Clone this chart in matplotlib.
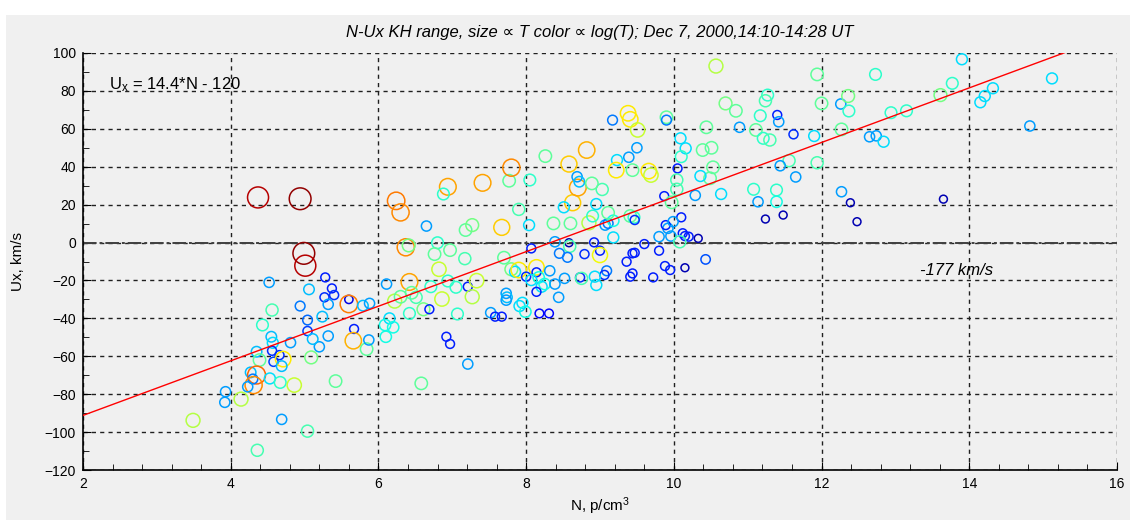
import numpy as np
import matplotlib
matplotlib.use('Agg')
import matplotlib.pyplot as plt
from matplotlib.colors import LogNorm
from matplotlib.patches import Rectangle
from matplotlib.ticker import MultipleLocator

plt.rcParams['font.family'] = ['Liberation Sans', 'DejaVu Sans']
plt.rcParams['mathtext.fontset'] = 'custom'
plt.rcParams['mathtext.rm'] = 'Liberation Sans'
plt.rcParams['mathtext.it'] = 'Liberation Sans:italic'

# density N (p/cm^3), flow Ux (km/s), temperature T (eV) for each sample
n_cm3 = [
    4.37, 4.94, 4.99, 5.01,
    4.52, 5.28, 5.06, 5.37, 5.40, 5.27, 5.32, 4.94, 4.56, 4.43, 5.04, 5.04, 5.24, 5.60, 5.60, 5.79,
    5.88, 5.67, 5.66, 5.84, 5.87, 5.32, 5.20, 5.11, 4.81, 4.55, 4.57, 4.56, 4.58, 4.66, 4.71, 4.69,
    4.35, 4.39, 4.27, 4.35, 4.30, 4.31, 4.23, 4.53, 4.67, 4.86, 5.09, 5.42, 3.93, 3.92, 4.14, 3.49,
    4.69, 5.04, 4.36,
    6.11, 6.37, 6.41, 6.80, 6.76, 6.82, 6.65, 6.42, 6.71, 6.22, 6.30, 6.45, 6.51, 6.61, 6.69, 6.42,
    6.86, 6.15, 6.09, 6.20, 6.10, 6.92, 6.97, 6.94, 6.58,
    6.94, 6.88, 7.41, 7.77, 6.24, 6.30, 7.18, 7.27, 7.67, 7.90, 8.04, 6.97, 7.17, 7.05, 7.21, 7.33,
    7.27, 7.70, 7.80, 7.85, 7.90, 7.07, 7.21, 7.73, 7.74, 7.73, 7.52, 7.58, 7.67, 7.91, 7.95, 7.99,
    8.18, 8.31, 8.07, 8.14, 8.14, 8.00, 8.07, 8.17, 8.21, 8.25, 8.14, 8.32, 8.39, 8.44, 8.52, 8.73,
    8.75, 8.39, 8.58, 8.59, 8.92, 8.79, 9.00, 9.00, 9.09, 9.06, 8.93, 8.95, 9.18, 9.60, 9.80, 9.36,
    9.44, 9.47, 9.41, 9.44, 9.72, 9.88, 9.95, 9.80, 9.92, 9.89, 9.87, 8.45, 8.56,
    9.97, 10.29, 10.64, 10.10, 9.99, 9.96, 10.12, 10.15, 10.20, 10.33, 10.08, 10.43, 10.15, 9.07,
    9.11, 9.18, 8.85, 8.90, 8.95, 9.11, 9.41, 9.46, 9.47, 8.37, 8.60, 8.63, 8.51, 8.70, 9.03,
    10.57, 11.27, 11.24, 10.70, 10.84, 11.17, 11.40, 11.42, 9.38, 9.41, 9.51, 9.17, 9.90, 9.90,
    10.44, 10.89, 11.11, 11.21, 11.30, 10.09, 10.16, 10.10, 10.39, 10.51, 9.50, 9.39, 9.23, 9.22,
    9.44, 9.66, 9.69, 10.05, 10.04, 10.04, 10.53, 10.49, 10.36, 11.08, 11.14, 11.39, 11.39, 11.24,
    8.82, 8.26, 8.58, 7.80, 8.05, 8.69, 8.72, 8.89,
    11.94, 12.73, 13.90, 13.77, 13.61, 12.00, 12.26, 12.36, 12.37, 11.90, 12.27, 12.65, 12.74,
    12.84, 12.94, 13.15, 11.62, 11.94, 11.56, 11.44, 11.65, 11.48, 12.27, 12.39, 12.48, 13.65,
    14.32, 14.21, 14.15, 15.12, 14.82,
]
ux_kms = [
    23.8, 23.1, -5.7, -12.2,
    -21.0, -18.4, -24.7, -24.2, -27.7, -28.9, -32.6, -33.5, -35.6, -43.5, -40.9, -46.7, -39.1, -30.0, -32.4, -33.3,
    -32.1, -45.6, -51.8, -56.2, -51.4, -49.3, -55.0, -50.9, -52.8, -49.7, -52.9, -57.1, -62.9, -59.4, -61.5, -65.2,
    -57.6, -62.0, -68.5, -69.9, -72.0, -75.2, -76.1, -71.7, -73.8, -75.2, -60.6, -73.1, -78.7, -84.3, -82.6, -93.8,
    -93.3, -99.5, -109.6,
    -21.9, -2.5, -1.5, -0.1, -6.1, -14.1, 8.7, -20.8, -23.3, -30.9, -28.6, -26.5, -28.9, -35.2, -35.2, -37.4,
    -29.8, -40.0, -43.5, -44.7, -49.7, -49.7, -53.5, -20.3, -74.3,
    29.4, 25.6, 31.5, 32.6, 22.0, 15.9, 6.6, 9.2, 8.0, 17.5, 9.2, -4.0, -8.5, -23.6, -23.3, -20.1,
    -28.6, -8.0, -14.1, -15.4, -14.5, -37.7, -64.1, -26.8, -28.9, -30.4, -37.0, -39.1, -39.1, -33.5, -31.8, -36.5,
    -37.4, -37.4, -3.1, -13.1, -15.7, -18.0, -19.8, -18.4, -23.3, -21.9, -26.0, -14.9, -21.9, -28.9, -18.9, -18.4,
    -18.9, 0.4, -0.1, -2.0, 0.1, -6.1, -4.3, -6.6, -14.9, -17.1, -18.0, -22.4, 2.7, -0.8, -4.3, -10.1,
    -5.7, -5.4, -18.0, -16.3, -18.4, -12.4, -14.5, 3.1, 7.5, 9.2, 24.5, -5.7, -7.8,
    21.2, 24.9, 25.6, 13.3, 11.0, 3.4, 4.9, 3.4, 3.1, 2.2, 0.4, -8.9, -13.3, 9.2,
    10.1, 11.5, 10.4, 14.0, 20.3, 15.7, 14.0, 13.3, 11.9, 10.1, 10.1, 21.0, 18.6, 29.0, 28.0,
    93.1, 77.8, 74.8, 73.4, 69.5, 66.9, 67.3, 63.7, 68.2, 65.0, 59.4, 64.6, 66.1, 64.6,
    60.8, 60.8, 59.4, 55.0, 54.1, 55.0, 49.7, 45.3, 48.8, 50.0, 50.0, 45.0, 43.5, 38.2,
    38.2, 37.7, 35.6, 39.1, 33.0, 28.1, 39.7, 33.9, 35.1, 28.1, 21.5, 27.7, 21.5, 12.4,
    48.8, 45.6, 41.4, 39.5, 33.0, 34.7, 32.1, 31.2,
    88.7, 88.7, 96.7, 84.0, 77.8, 73.4, 73.1, 77.3, 69.4, 56.2, 59.7, 55.8, 56.3,
    53.2, 68.5, 69.5, 57.1, 42.1, 43.2, 40.5, 34.6, 14.5, 26.8, 21.0, 11.0, 22.9,
    81.4, 77.3, 74.0, 86.6, 61.5,
]
temp_ev = [
    280, 290, 290, 280,
    135, 118, 140, 118, 120, 120, 135, 130, 160, 155, 128, 122, 140, 110, 232, 140,
    135, 118, 218, 165, 135, 135, 135, 140, 135, 140, 145, 120, 122, 120, 205, 140,
    140, 165, 140, 238, 130, 228, 135, 145, 155, 190, 170, 165, 135, 135, 185, 185,
    135, 160, 160,
    135, 228, 170, 155, 165, 190, 135, 222, 155, 185, 165, 165, 160, 170, 118, 155,
    190, 145, 150, 150, 150, 118, 118, 155, 165,
    222, 155, 222, 165, 232, 228, 165, 170, 212, 160, 145, 165, 160, 155, 118, 190,
    185, 165, 170, 145, 205, 155, 135, 135, 140, 135, 135, 118, 118, 145, 145, 150,
    115, 115, 118, 205, 118, 120, 145, 150, 145, 150, 118, 135, 135, 135, 135, 120,
    160, 135, 105, 160, 118, 120, 118, 200, 130, 120, 145, 145, 145, 118, 118, 118,
    118, 118, 118, 118, 118, 118, 118, 135, 135, 118, 118, 130, 130,
    165, 135, 145, 118, 135, 135, 118, 118, 118, 105, 160, 125, 105, 135,
    130, 150, 185, 155, 145, 165, 165, 155, 120, 165, 165, 212, 145, 222, 160,
    185, 155, 160, 170, 165, 155, 118, 135, 205, 205, 190, 130, 165, 130,
    165, 135, 165, 155, 160, 145, 145, 155, 165, 165, 135, 135, 145, 205,
    165, 205, 190, 118, 160, 160, 165, 165, 145, 155, 135, 155, 150, 105,
    218, 165, 212, 228, 155, 135, 140, 165,
    165, 155, 145, 155, 170, 165, 135, 170, 155, 145, 165, 135, 135,
    145, 155, 155, 120, 160, 160, 135, 135, 105, 135, 105, 105, 105,
    145, 145, 145, 145, 135,
]

# linear fit Ux = a*N + b
fit_a, fit_b = 14.4, -120
title = 'N-Ux KH range, size \u221d T color \u221d log(T); Dec 7, 2000,14:10-14:28 UT'

n_cm3 = np.array(n_cm3)
ux_kms = np.array(ux_kms)
temp_ev = np.array(temp_ev)

fig = plt.figure(figsize=(11.3, 5.2), dpi=100)
fig.patch.set_facecolor('white')
fig.patches.append(Rectangle((6 / 1130, 0), 1, 1 - 15 / 520, transform=fig.transFigure,
                             facecolor='#f0f0f0', edgecolor='none', zorder=-10))

ax = fig.add_axes([83 / 1130, 50 / 520, 1034 / 1130, 417 / 520])
ax.set_facecolor('#f0f0f0')

# circle diameter grows with T, colour with log(T)
norm = LogNorm(vmin=100, vmax=295)
edge = plt.get_cmap('jet')(norm(temp_ev))
diam_px = 7.5 * temp_ev / 100.0
sizes = (diam_px * 72 / 100.0) ** 2
ax.scatter(n_cm3, ux_kms, s=sizes, facecolors='none', edgecolors=edge,
           linewidths=1.1, zorder=3)

xfit = np.linspace(2, 16, 50)
ax.plot(xfit, fit_a * xfit + fit_b, color='red', lw=1.0, zorder=4)

ax.axhline(0, color='#404040', lw=1.4, dashes=(7, 1.5, 1.5, 1.5), zorder=2)

ax.set_xlim(2, 16)
ax.set_ylim(-120, 100)
ax.xaxis.set_major_locator(MultipleLocator(2))
ax.xaxis.set_minor_locator(MultipleLocator(0.4))
ax.yaxis.set_major_locator(MultipleLocator(20))
ax.yaxis.set_minor_locator(MultipleLocator(10))
ax.tick_params(which='both', direction='in', labelsize=10, color='black')
ax.tick_params(which='major', length=6, pad=5)
ax.tick_params(which='minor', length=4)
ax.grid(True, which='major', color='#202020', linestyle=(0, (3, 3)), lw=1.0, zorder=1)
ax.set_axisbelow(True)
for side in ('top', 'right'):
    ax.spines[side].set_visible(False)
for side in ('left', 'bottom'):
    ax.spines[side].set_linewidth(1.2)

ax.set_xlabel('N, p/cm$^3$', fontsize=11)
ax.set_ylabel('Ux, km/s', fontsize=11)
ax.xaxis.set_label_coords(0.5, -0.062)
ax.yaxis.set_label_coords(-0.056, 0.5)

fig.text(600 / 1130, 1 - 33 / 520, title, ha='center', va='center', fontsize=12, fontstyle='italic')
ax.text(2.35, 83.5, 'U$_{\\mathrm{x}}$ = 14.4*N - 120', fontsize=12, ha='left', va='center')
ax.text(13.33, -14.5, '-177 km/s', fontsize=12, fontstyle='italic', ha='left', va='center')

fig.savefig('out.png', dpi=100)
